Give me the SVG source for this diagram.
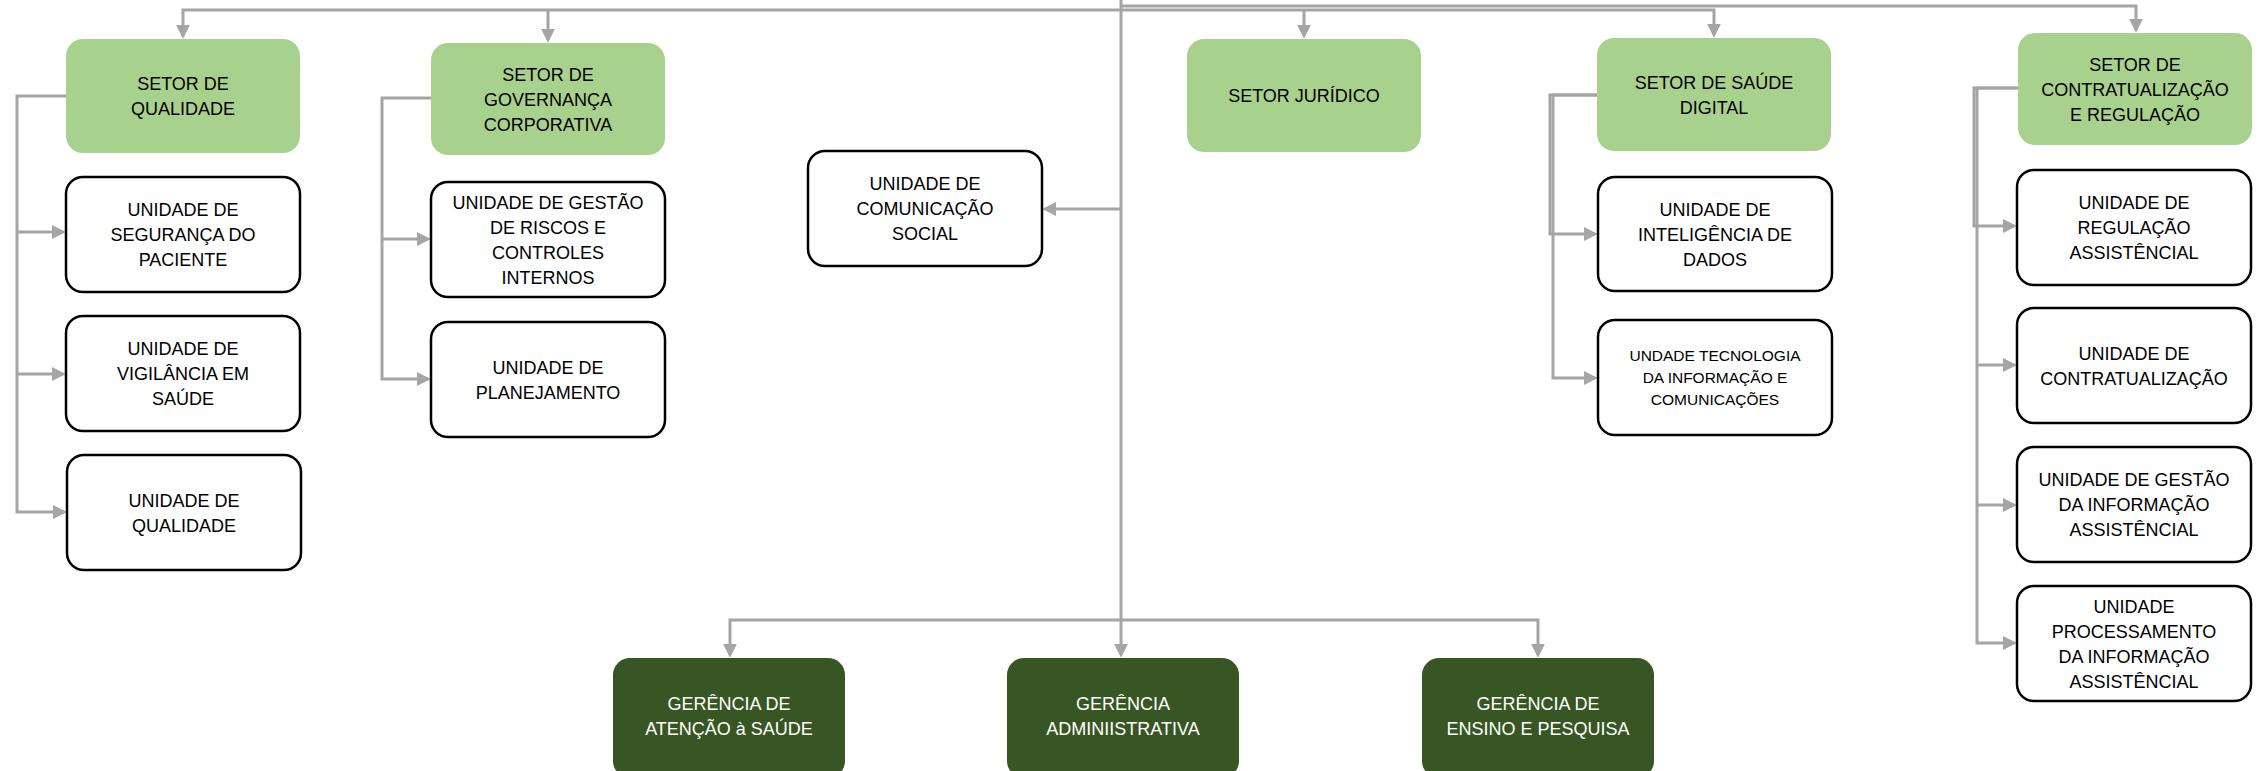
<svg xmlns="http://www.w3.org/2000/svg" width="2262" height="771" viewBox="0 0 2262 771">
<defs>
<style>
.setor{fill:#A9D18E;stroke:none}
.unit{fill:#FFFFFF;stroke:#000000;stroke-width:2.5}
.ger{fill:#375623;stroke:none}
.t{font-family:"Liberation Sans",Arial,sans-serif;font-size:18px;fill:#000000;text-anchor:middle}
.ts{font-family:"Liberation Sans",Arial,sans-serif;font-size:15.5px;fill:#000000;text-anchor:middle}
.tw{font-family:"Liberation Sans",Arial,sans-serif;font-size:18px;fill:#FFFFFF;text-anchor:middle}
.c{fill:none;stroke:#A5A5A5;stroke-width:3}
.ca{fill:none;stroke:#A5A5A5;stroke-width:3;marker-end:url(#arr)}
</style>
<marker id="arr" viewBox="0 0 10 10" refX="8" refY="5" markerWidth="14" markerHeight="14" markerUnits="userSpaceOnUse" orient="auto">
<path d="M0,0 L10,5 L0,10 z" fill="#A5A5A5"/>
</marker>
</defs>
<rect width="2262" height="771" fill="#FFFFFF"/>
<g id="connectors">
<path class="c" d="M1121,0 V620"/>
<path class="ca" d="M1121,10 H183 V36"/>
<path class="ca" d="M548,10 V40"/>
<path class="ca" d="M1121,10 H1714 V35"/>
<path class="ca" d="M1304,10 V36"/>
<path class="ca" d="M1121,6 H2136 V30"/>
<path class="ca" d="M1121,209 H1045"/>
<path class="ca" d="M1121,620 H730 V655"/>
<path class="ca" d="M1121,620 V655"/>
<path class="ca" d="M1121,620 H1538 V655"/>
<path class="ca" d="M66,96 H17 V512 H64"/>
<path class="ca" d="M17,232 H63"/>
<path class="ca" d="M17,374 H63"/>
<path class="ca" d="M431,98 H382 V379 H428"/>
<path class="ca" d="M382,239 H428"/>
<path class="ca" d="M1597,95 H1550 V234 H1595"/>
<path class="ca" d="M1597,95 H1553 V378 H1595"/>
<path class="ca" d="M2018,88 H1974 V226 H2014"/>
<path class="ca" d="M2018,88 H1977 V643 H2014"/>
<path class="ca" d="M1977,365 H2014"/>
<path class="ca" d="M1977,505 H2014"/>
</g>
<g id="setor-qualidade">
<rect class="setor" x="66" y="39" width="234" height="114" rx="17"/>
<text class="t" x="183" y="90">SETOR DE</text>
<text class="t" x="183" y="115">QUALIDADE</text>
</g>
<g id="setor-governanca">
<rect class="setor" x="431" y="43" width="234" height="112" rx="17"/>
<text class="t" x="548" y="80.5">SETOR DE</text>
<text class="t" x="548" y="105.5">GOVERNANÇA</text>
<text class="t" x="548" y="130.5">CORPORATIVA</text>
</g>
<g id="setor-juridico">
<rect class="setor" x="1187" y="39" width="234" height="113" rx="17"/>
<text class="t" x="1304" y="102">SETOR JURÍDICO</text>
</g>
<g id="setor-saude-digital">
<rect class="setor" x="1597" y="38" width="234" height="113" rx="17"/>
<text class="t" x="1714" y="88.5">SETOR DE SAÚDE</text>
<text class="t" x="1714" y="113.5">DIGITAL</text>
</g>
<g id="setor-contratualizacao">
<rect class="setor" x="2018" y="33" width="234" height="112" rx="17"/>
<text class="t" x="2135" y="70.5">SETOR DE</text>
<text class="t" x="2135" y="95.5">CONTRATUALIZAÇÃO</text>
<text class="t" x="2135" y="120.5">E REGULAÇÃO</text>
</g>
<g id="unidade-seguranca">
<rect class="unit" x="66" y="177" width="234" height="115" rx="17"/>
<text class="t" x="183" y="216">UNIDADE DE</text>
<text class="t" x="183" y="241">SEGURANÇA DO</text>
<text class="t" x="183" y="266">PACIENTE</text>
</g>
<g id="unidade-vigilancia">
<rect class="unit" x="66" y="316" width="234" height="115" rx="17"/>
<text class="t" x="183" y="355">UNIDADE DE</text>
<text class="t" x="183" y="380">VIGILÂNCIA EM</text>
<text class="t" x="183" y="405">SAÚDE</text>
</g>
<g id="unidade-qualidade">
<rect class="unit" x="67" y="455" width="234" height="115" rx="17"/>
<text class="t" x="184" y="506.5">UNIDADE DE</text>
<text class="t" x="184" y="531.5">QUALIDADE</text>
</g>
<g id="unidade-riscos">
<rect class="unit" x="431" y="182" width="234" height="115" rx="17"/>
<text class="t" x="548" y="208.5">UNIDADE DE GESTÃO</text>
<text class="t" x="548" y="233.5">DE RISCOS E</text>
<text class="t" x="548" y="258.5">CONTROLES</text>
<text class="t" x="548" y="283.5">INTERNOS</text>
</g>
<g id="unidade-planejamento">
<rect class="unit" x="431" y="322" width="234" height="115" rx="17"/>
<text class="t" x="548" y="373.5">UNIDADE DE</text>
<text class="t" x="548" y="398.5">PLANEJAMENTO</text>
</g>
<g id="unidade-comunicacao">
<rect class="unit" x="808" y="151" width="234" height="115" rx="17"/>
<text class="t" x="925" y="190">UNIDADE DE</text>
<text class="t" x="925" y="215">COMUNICAÇÃO</text>
<text class="t" x="925" y="240">SOCIAL</text>
</g>
<g id="unidade-inteligencia">
<rect class="unit" x="1598" y="177" width="234" height="114" rx="17"/>
<text class="t" x="1715" y="215.5">UNIDADE DE</text>
<text class="t" x="1715" y="240.5">INTELIGÊNCIA DE</text>
<text class="t" x="1715" y="265.5">DADOS</text>
</g>
<g id="unidade-tecnologia">
<rect class="unit" x="1598" y="320" width="234" height="115" rx="17"/>
<text class="ts" x="1715" y="361">UNDADE TECNOLOGIA</text>
<text class="ts" x="1715" y="383">DA INFORMAÇÃO E</text>
<text class="ts" x="1715" y="405">COMUNICAÇÕES</text>
</g>
<g id="unidade-regulacao">
<rect class="unit" x="2017" y="170" width="234" height="115" rx="17"/>
<text class="t" x="2134" y="209">UNIDADE DE</text>
<text class="t" x="2134" y="234">REGULAÇÃO</text>
<text class="t" x="2134" y="259">ASSISTÊNCIAL</text>
</g>
<g id="unidade-contratualizacao">
<rect class="unit" x="2017" y="308" width="234" height="115" rx="17"/>
<text class="t" x="2134" y="359.5">UNIDADE DE</text>
<text class="t" x="2134" y="384.5">CONTRATUALIZAÇÃO</text>
</g>
<g id="unidade-gestao-informacao">
<rect class="unit" x="2017" y="447" width="234" height="115" rx="17"/>
<text class="t" x="2134" y="486">UNIDADE DE GESTÃO</text>
<text class="t" x="2134" y="511">DA INFORMAÇÃO</text>
<text class="t" x="2134" y="536">ASSISTÊNCIAL</text>
</g>
<g id="unidade-processamento">
<rect class="unit" x="2017" y="586" width="234" height="115" rx="17"/>
<text class="t" x="2134" y="612.5">UNIDADE</text>
<text class="t" x="2134" y="637.5">PROCESSAMENTO</text>
<text class="t" x="2134" y="662.5">DA INFORMAÇÃO</text>
<text class="t" x="2134" y="687.5">ASSISTÊNCIAL</text>
</g>
<g id="gerencia-atencao">
<rect class="ger" x="613" y="658" width="232" height="120" rx="17"/>
<text class="tw" x="729" y="710">GERÊNCIA DE</text>
<text class="tw" x="729" y="735">ATENÇÃO à SAÚDE</text>
</g>
<g id="gerencia-administrativa">
<rect class="ger" x="1007" y="658" width="232" height="120" rx="17"/>
<text class="tw" x="1123" y="710">GERÊNCIA</text>
<text class="tw" x="1123" y="735">ADMINIISTRATIVA</text>
</g>
<g id="gerencia-ensino">
<rect class="ger" x="1422" y="658" width="232" height="120" rx="17"/>
<text class="tw" x="1538" y="710">GERÊNCIA DE</text>
<text class="tw" x="1538" y="735">ENSINO E PESQUISA</text>
</g>
</svg>
